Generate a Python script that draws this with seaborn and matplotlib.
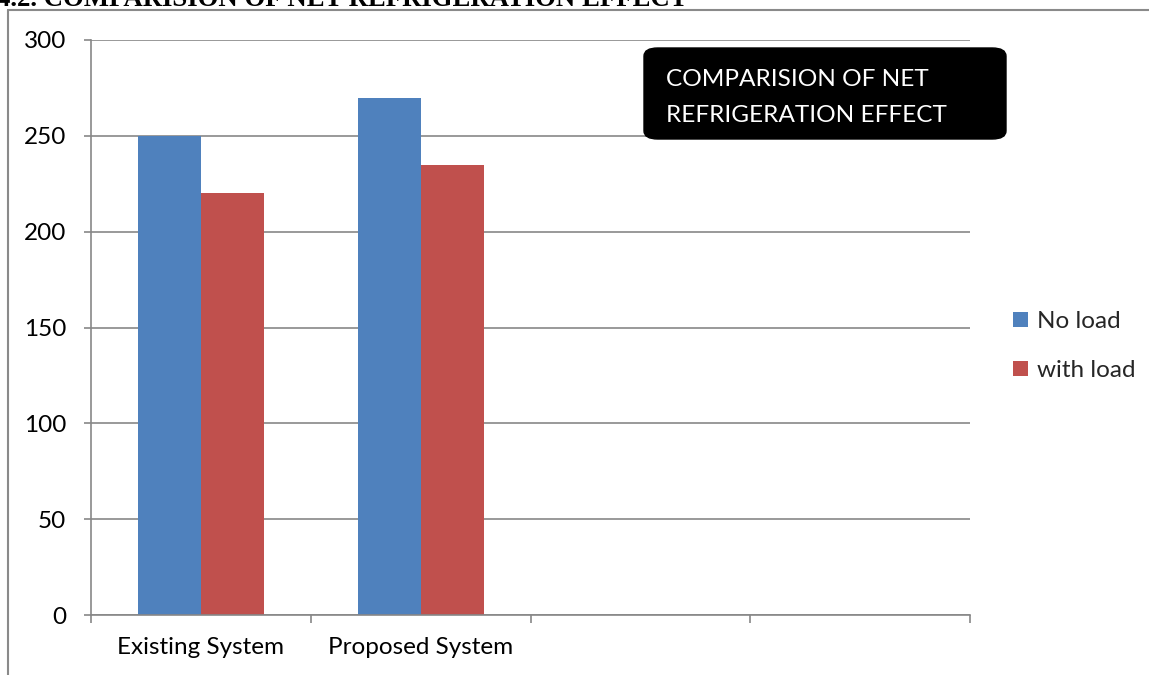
import matplotlib
matplotlib.use("Agg")
import matplotlib.pyplot as plt
from matplotlib.patches import FancyBboxPatch, Patch
from matplotlib.lines import Line2D
import seaborn as sns
import pandas as pd

# Net refrigeration effect for each system, with and without load
systems = ["Existing System", "Proposed System"]
series = ["No load", "with load"]
no_load = [250, 270]
with_load = [220, 235]
y_ticks = [0, 50, 100, 150, 200, 250, 300]

colors = {"No load": "#4F81BD", "with load": "#C0504D"}
grid_gray = "#878787"

df = pd.DataFrame({
    "System": systems * 2,
    "Condition": [series[0]] * len(systems) + [series[1]] * len(systems),
    "Effect": no_load + with_load,
})

sns.set_theme(style="white")
plt.rcParams["font.family"] = ["Lato", "DejaVu Sans"]

W, H = 1149, 675
fs = 17.5
fig = plt.figure(figsize=(W / 100, H / 100), dpi=100)
ax = fig.add_axes([91 / W, 1 - 615 / H, (970 - 91) / W, (615 - 40) / H])

sns.barplot(data=df, x="System", y="Effect", hue="Condition", order=systems,
            hue_order=series, palette=colors, width=0.573, gap=0,
            saturation=1, edgecolor="none", legend=False, ax=ax)

ax.set_xlim(-0.5, 3.5)
ax.set_ylim(0, 300)
ax.set_yticks(y_ticks)
ax.set_xlabel("")
ax.set_ylabel("")

# Horizontal gridlines behind the bars
ax.set_axisbelow(True)
ax.yaxis.grid(True, color=grid_gray, linewidth=1.2)
ax.xaxis.grid(False)

for side in ("top", "right"):
    ax.spines[side].set_visible(False)
for side in ("left", "bottom"):
    ax.spines[side].set_color(grid_gray)
    ax.spines[side].set_linewidth(1.2)

ax.tick_params(axis="y", which="major", direction="out", length=5, width=1.2,
               color=grid_gray, pad=13, labelsize=fs, labelcolor="black", left=True)
ax.tick_params(axis="x", which="major", length=0, pad=16, labelsize=fs,
               labelcolor="black")
# Category boundary marks along the x axis
ax.set_xticks([-0.5, 0.5, 1.5, 2.5, 3.5], minor=True)
ax.tick_params(axis="x", which="minor", direction="out", length=6, width=1.2,
               color=grid_gray, bottom=True)

# Legend on the right
handles = [Patch(facecolor=colors[s], edgecolor="none", label=s) for s in series]
fig.legend(handles=handles, loc="center left",
           bbox_to_anchor=(1013 / W, 1 - 346 / H), frameon=False,
           fontsize=fs, handlelength=0.62, handleheight=0.62,
           handletextpad=0.35, labelspacing=1.15, borderpad=0,
           borderaxespad=0)

# Black rounded title box inside the plot
box = FancyBboxPatch((644 / W, 1 - 139 / H), (1006 - 644) / W, (139 - 48) / H,
                     boxstyle="round,pad=0,rounding_size=0.012",
                     transform=fig.transFigure, facecolor="black",
                     edgecolor="black", linewidth=1, zorder=5)
fig.patches.append(box)
fig.text(666 / W, 1 - 80 / H, "COMPARISION OF NET", color="white",
         fontsize=17.6, va="center", ha="left", zorder=6)
fig.text(666 / W, 1 - 116 / H, "REFRIGERATION EFFECT", color="white",
         fontsize=17.6, va="center", ha="left", zorder=6)

# Outer frame of the chart area
frame_kw = dict(color="#8a8a8a", linewidth=1.5, transform=fig.transFigure)
fig.lines.append(Line2D([8 / W, 8 / W], [0, 1 - 10 / H], **frame_kw))
fig.lines.append(Line2D([8 / W, 1], [1 - 10 / H, 1 - 10 / H], **frame_kw))

# Section heading above the chart
fig.text(-3 / W, 1 - 6 / H, "4.2. COMPARISION OF NET REFRIGERATION EFFECT",
         family=["Liberation Serif", "DejaVu Serif"], fontweight="bold",
         fontsize=19.3, va="baseline", ha="left", color="black")

fig.savefig("out.png", dpi=100)
